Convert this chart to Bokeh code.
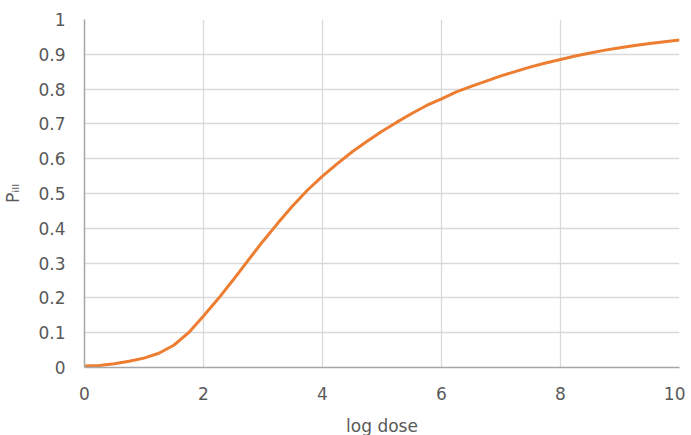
from bokeh.plotting import figure
from bokeh.models import FixedTicker
from bokeh.embed import file_html
from bokeh.resources import INLINE

# data
log_dose = [0, 0.25, 0.5, 0.75, 1.0, 1.25, 1.5, 1.75, 2.0, 2.25, 2.5, 2.75, 3.0,
            3.25, 3.5, 3.75, 4.0, 4.25, 4.5, 4.75, 5.0, 5.25, 5.5, 5.75, 6.0,
            6.25, 6.5, 6.75, 7.0, 7.25, 7.5, 7.75, 8.0, 8.25, 8.5, 8.75, 9.0,
            9.25, 9.5, 9.75, 10.0]
p_ill = [0.004, 0.006, 0.011, 0.018, 0.027, 0.041, 0.064, 0.100, 0.148, 0.198,
         0.252, 0.308, 0.363, 0.415, 0.465, 0.510, 0.550, 0.586, 0.620, 0.650,
         0.679, 0.705, 0.730, 0.753, 0.772, 0.792, 0.808, 0.823, 0.838, 0.851,
         0.864, 0.875, 0.885, 0.895, 0.904, 0.912, 0.919, 0.925, 0.931, 0.936,
         0.941]
x_ticks = [0, 2, 4, 6, 8, 10]
y_ticks = [0, 0.1, 0.2, 0.3, 0.4, 0.5, 0.6, 0.7, 0.8, 0.9, 1]

p = figure(frame_width=595, frame_height=348, x_range=(0, 10), y_range=(0, 1),
           output_backend="svg", toolbar_location=None,
           min_border_left=76, min_border_right=6, min_border_top=19,
           min_border_bottom=40)
p.outline_line_color = None
p.background_fill_color = "white"
p.border_fill_color = "white"

p.line(log_dose, p_ill, line_color="#ED7D31", line_width=3)

font = "DejaVu Sans"
gray = "#595959"
p.xaxis.ticker = FixedTicker(ticks=x_ticks)
p.yaxis.ticker = FixedTicker(ticks=y_ticks)
p.yaxis.major_label_overrides = {0: "0", 1: "1"}
for ax in (p.xaxis[0], p.yaxis[0]):
    ax.major_tick_line_color = None
    ax.minor_tick_line_color = None
    ax.axis_line_color = "#a6a6a6"
    ax.axis_line_width = 1.5
    ax.major_label_text_font = font
    ax.major_label_text_font_size = "17px"
    ax.major_label_text_color = gray
    ax.axis_label_text_font = font
    ax.axis_label_text_font_size = "17px"
    ax.axis_label_text_font_style = "normal"
    ax.axis_label_text_color = gray
    ax.major_label_standoff = 13

p.xaxis.axis_label = "log dose"
p.yaxis.axis_label = "Pᵢₗₗ"
p.xaxis.axis_label_standoff = 13
p.yaxis.axis_label_standoff = 12

p.xgrid.ticker = FixedTicker(ticks=x_ticks)
p.ygrid.ticker = FixedTicker(ticks=y_ticks)
p.grid.grid_line_color = "#d9d9d9"
p.grid.grid_line_width = 1.3

open("out.html", "w").write(file_html(p, INLINE))
